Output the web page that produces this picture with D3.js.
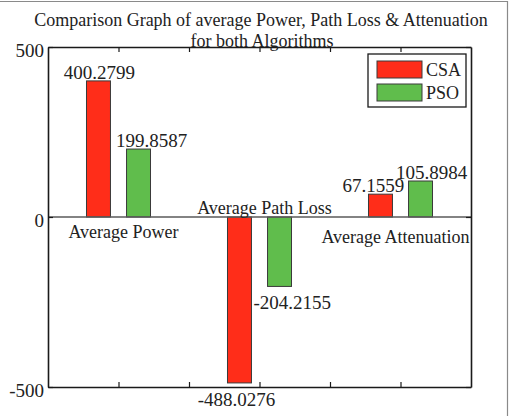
<!DOCTYPE html>
<html>
<head>
<meta charset="utf-8">
<script src="https://cdn.jsdelivr.net/npm/d3@7"></script>
<style>
  body { margin: 0; background: #fff; }
  svg text { font-family: "Liberation Serif", "Times New Roman", serif; fill: #222; }
</style>
</head>
<body>
<div id="chart"></div>
<script>
// data
const categories = ["Average Power", "Average Path Loss", "Average Attenuation"];
const seriesNames = ["CSA", "PSO"];
const csaValues = [400.2799, -488.0276, 67.1559];
const psoValues = [199.8587, -204.2155, 105.8984];
const yTicks = [-500, 0, 500];
const xTicks = [1, 1.5, 2, 2.5, 3];
const colors = ["#ff2d19", "#60bd4c"];

// set the dimensions and margins of the graph
const width = 509, height = 416;
const margin = {top: 47, right: 38, bottom: 29, left: 48};

const svg = d3.select("#chart")
  .append("svg")
  .attr("width", width)
  .attr("height", height);

const x = d3.scaleLinear().domain([0.5, 3.5]).range([margin.left, width - margin.right]);
const y = d3.scaleLinear().domain([-500, 500]).range([height - margin.bottom, margin.top]);

// outer frame of the screenshot (top and right only)
svg.append("line").attr("x1", 0).attr("x2", 508).attr("y1", 1.5).attr("y2", 1.5)
  .attr("stroke", "#8a8a8a").attr("stroke-width", 1.2);
svg.append("line").attr("x1", 507.5).attr("x2", 507.5).attr("y1", 1).attr("y2", height)
  .attr("stroke", "#8a8a8a").attr("stroke-width", 1.2);

// bars
const barW = 0.17;
const offsets = [-0.142, 0.142];
const series = [csaValues, psoValues];

series.forEach(function(vals, s) {
  svg.append("g")
    .selectAll("rect")
    .data(vals)
    .join("rect")
    .attr("x", (d, i) => x(i + 1 + offsets[s] - barW / 2))
    .attr("width", x(barW) - x(0))
    .attr("y", d => y(Math.max(0, d)))
    .attr("height", d => Math.abs(y(d) - y(0)))
    .attr("fill", colors[s])
    .attr("stroke", "#3a3a3a")
    .attr("stroke-width", 1);
});

// zero line
svg.append("line")
  .attr("x1", x(0.5)).attr("x2", x(3.5))
  .attr("y1", y(0)).attr("y2", y(0))
  .attr("stroke", "#5a5a5a").attr("stroke-width", 1.5);

// axes (box style, ticks pointing inward)
const axisStyle = g => {
  g.select(".domain").attr("stroke", "#1a1a1a").attr("stroke-width", 1.6);
  g.selectAll(".tick line").attr("stroke", "#1a1a1a").attr("stroke-width", 1.2);
  g.selectAll("text").remove();
};

svg.append("g")
  .attr("transform", `translate(0,${y(-500)})`)
  .call(d3.axisBottom(x).tickValues(xTicks).tickSize(-5).tickSizeOuter(0))
  .call(axisStyle);
svg.append("g")
  .attr("transform", `translate(0,${y(500)})`)
  .call(d3.axisTop(x).tickValues(xTicks).tickSize(-5).tickSizeOuter(0))
  .call(axisStyle);
svg.append("g")
  .attr("transform", `translate(${x(3.5)},0)`)
  .call(d3.axisRight(y).tickValues(yTicks).tickSize(-5).tickSizeOuter(0))
  .call(axisStyle);
svg.append("g")
  .attr("transform", `translate(${x(0.5)},0)`)
  .call(d3.axisLeft(y).tickValues(yTicks).tickSize(-5).tickSizeOuter(0))
  .call(axisStyle);

// y tick labels
svg.append("g")
  .selectAll("text")
  .data(yTicks)
  .join("text")
  .attr("x", x(0.5) - 4)
  .attr("y", d => y(d) + 10)
  .attr("text-anchor", "end")
  .attr("font-size", 19)
  .text(d => d);

// value labels, nudged like in the original figure
const labelDx = [[1, 13], [-3, 0], [-7, 11]];  // [category][series] px from bar centre
const labelAnchor = [["middle", "middle"], ["middle", "start"], ["middle", "middle"]];
series.forEach(function(vals, s) {
  svg.append("g")
    .selectAll("text")
    .data(vals)
    .join("text")
    .attr("x", (d, i) => {
      if (labelAnchor[i][s] == "start") return x(i + 1 + offsets[s] - barW / 2) - 14;
      return x(i + 1 + offsets[s]) + labelDx[i][s];
    })
    .attr("y", d => d >= 0 ? y(d) - 2 : y(d) + 23)
    .attr("text-anchor", (d, i) => labelAnchor[i][s])
    .attr("font-size", 19)
    .text(d => d.toFixed(4));
});

// category labels
const catDx = [5, 5, -5];
const catDy = [21, -3, 26];
svg.append("g")
  .selectAll("text")
  .data(categories)
  .join("text")
  .attr("x", (d, i) => x(i + 1) + catDx[i])
  .attr("y", (d, i) => y(0) + catDy[i])
  .attr("text-anchor", "middle")
  .attr("font-size", 18)
  .text(d => d);

// title
svg.append("text")
  .attr("x", 261).attr("y", 26)
  .attr("text-anchor", "middle").attr("font-size", 18)
  .text("Comparison Graph of average Power, Path Loss & Attenuation");
svg.append("text")
  .attr("x", 262).attr("y", 47)
  .attr("text-anchor", "middle").attr("font-size", 18)
  .text("for both Algorithms");

// legend
const legend = svg.append("g");
legend.append("rect")
  .attr("x", 368).attr("y", 54).attr("width", 98).attr("height", 53)
  .attr("fill", "#fff").attr("stroke", "#1a1a1a").attr("stroke-width", 1.3);
legend.selectAll("rect.sw")
  .data(seriesNames)
  .join("rect")
  .attr("class", "sw")
  .attr("x", 377).attr("y", (d, i) => 61 + i * 23)
  .attr("width", 45).attr("height", 17)
  .attr("fill", (d, i) => colors[i])
  .attr("stroke", "#3a3a3a").attr("stroke-width", 1);
legend.selectAll("text")
  .data(seriesNames)
  .join("text")
  .attr("x", 426).attr("y", (d, i) => 76 + i * 23)
  .attr("font-size", 18)
  .text(d => d);
</script>
</body>
</html>
